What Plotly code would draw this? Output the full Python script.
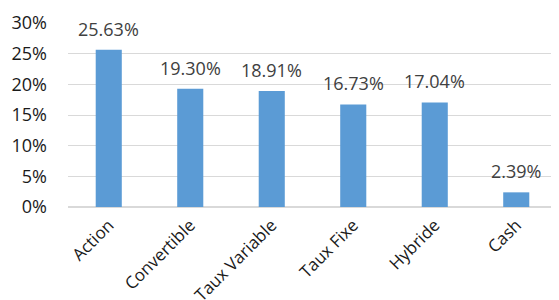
import plotly.graph_objects as go

categories = ["Action", "Convertible", "Taux Variable", "Taux Fixe", "Hybride", "Cash"]
values = [0.2563, 0.1930, 0.1891, 0.1673, 0.1704, 0.0239]
labels = ["25.63%", "19.30%", "18.91%", "16.73%", "17.04%", "2.39%"]
y_ticks = [0, 0.05, 0.10, 0.15, 0.20, 0.25, 0.30]
y_tick_labels = ["0%", "5%", "10%", "15%", "20%", "25%", "30%"]

fig = go.Figure()
fig.add_trace(go.Bar(x=categories, y=values, marker=dict(color="#5B9BD5", line=dict(width=0)),
                     width=0.32, hoverinfo="skip"))

for c, v, t in zip(categories, values, labels):
    fig.add_annotation(x=c, y=v, text=t, showarrow=False, yanchor="bottom", yshift=7,
                       font=dict(family="Open Sans", size=18, color="#404040"))

# the page body has an 8px default margin, so the figure is sized to fit inside the window
fig.update_layout(
    width=551, height=292,
    margin=dict(l=60, r=2, t=15, b=93),
    paper_bgcolor="white", plot_bgcolor="white",
    showlegend=False,
    font=dict(family="Open Sans", color="#000000"),
)
fig.update_xaxes(tickangle=-45, tickfont=dict(size=17, color="#1a1a1a"), showgrid=False,
                 showline=False, ticks="", automargin=False, ticklabelstandoff=4)
fig.update_yaxes(range=[0, 0.30], tickvals=y_ticks, ticktext=y_tick_labels,
                 tickfont=dict(size=18, color="#1a1a1a"), showgrid=True, gridcolor="#D9D9D9",
                 gridwidth=1, zeroline=True, zerolinecolor="#D9D9D9", zerolinewidth=1.5,
                 showline=False, ticks="", ticklabelstandoff=20, automargin=False)

fig.write_html("out.html")
